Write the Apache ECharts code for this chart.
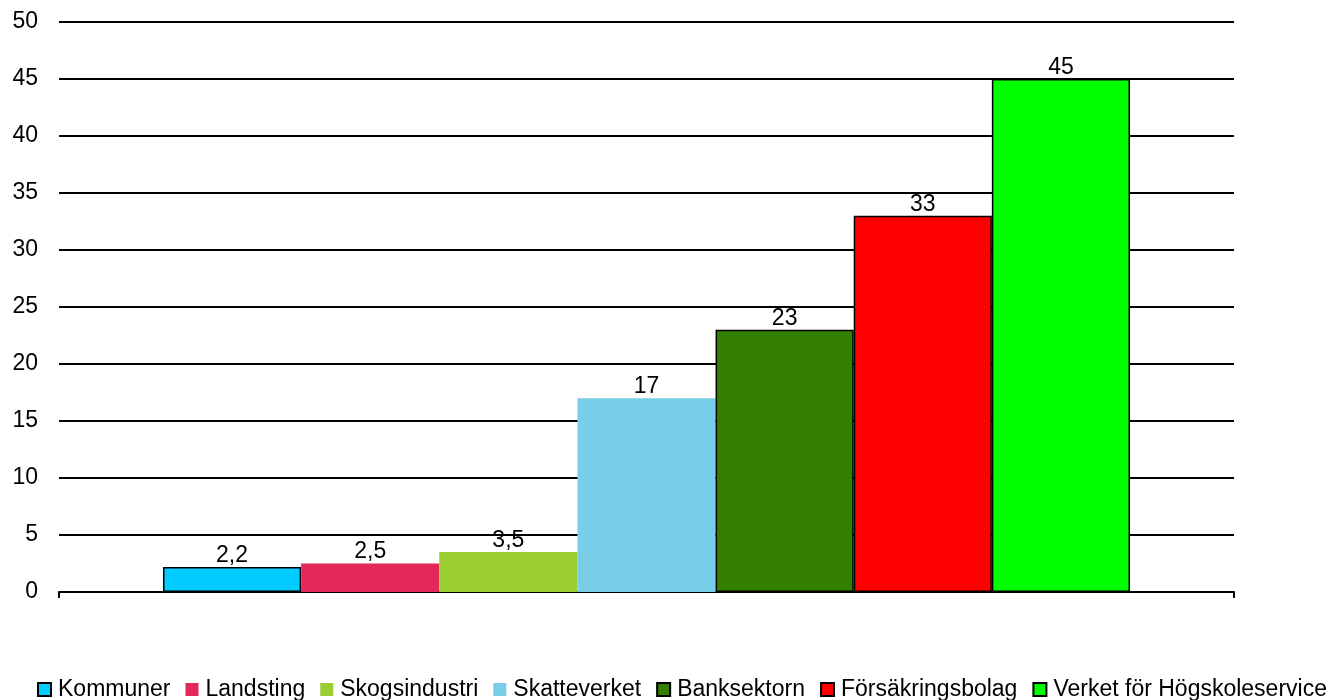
<!DOCTYPE html>
<html><head><meta charset="utf-8">
<script src="https://cdn.jsdelivr.net/npm/echarts@6/dist/echarts.min.js"></script>
<style>html,body{margin:0;padding:0;background:#fff}#c{width:1337px;height:700px}</style>
</head><body><div id="c"></div>
<script>
const categories = [''];
const seriesNames = ['Kommuner','Landsting','Skogsindustri','Skatteverket','Banksektorn','Försäkringsbolag','Verket för Högskoleservice'];
const seriesValues = [2.2, 2.5, 3.5, 17, 23, 33, 45];
const seriesColors = ['#00CCFF','#E4295A','#9ACD32','#78CEE8','#338000','#FF0000','#00FF00'];
const seriesBordered = [true, false, false, false, true, true, true];
const yTicks = [0,5,10,15,20,25,30,35,40,45,50];

const chart = echarts.init(document.getElementById('c'));
const font = 'Liberation Sans, Arial, sans-serif';
chart.setOption({
  animation: false,
  grid: {left: 59, right: 103, top: 22, bottom: 108, containLabel: false},
  legend: {
    top: 673, left: 32, padding: 5, icon: 'rect', itemWidth: 13, itemHeight: 13, itemGap: 15,
    textStyle: {fontFamily: font, fontSize: 23, color: '#000', padding: [0, 0, 0, 2]},
    data: seriesNames
  },
  xAxis: {
    type: 'category', data: categories,
    axisLine: {lineStyle: {color: '#000', width: 2}},
    axisTick: {show: true, length: 6, lineStyle: {color: '#000', width: 2}},
    axisLabel: {show: false}
  },
  yAxis: {
    type: 'value', min: yTicks[0], max: yTicks[yTicks.length-1], interval: 5,
    axisLine: {show: false}, axisTick: {show: false},
    axisLabel: {fontFamily: font, fontSize: 23, color: '#000', margin: 21},
    splitLine: {lineStyle: {color: '#000', width: 2}}
  },
  series: seriesNames.map((n, i) => ({
    name: n, type: 'bar', barGap: '0%', barCategoryGap: '17.7%',
    data: [seriesValues[i]],
    itemStyle: {color: seriesColors[i], borderColor: '#000', borderWidth: seriesBordered[i] ? 1.5 : 0},
    label: {show: true, position: 'top', distance: 0, fontFamily: font, fontSize: 23, color: '#000',
      formatter: p => String(p.value).replace('.', ',')}
  }))
});
</script></body></html>
